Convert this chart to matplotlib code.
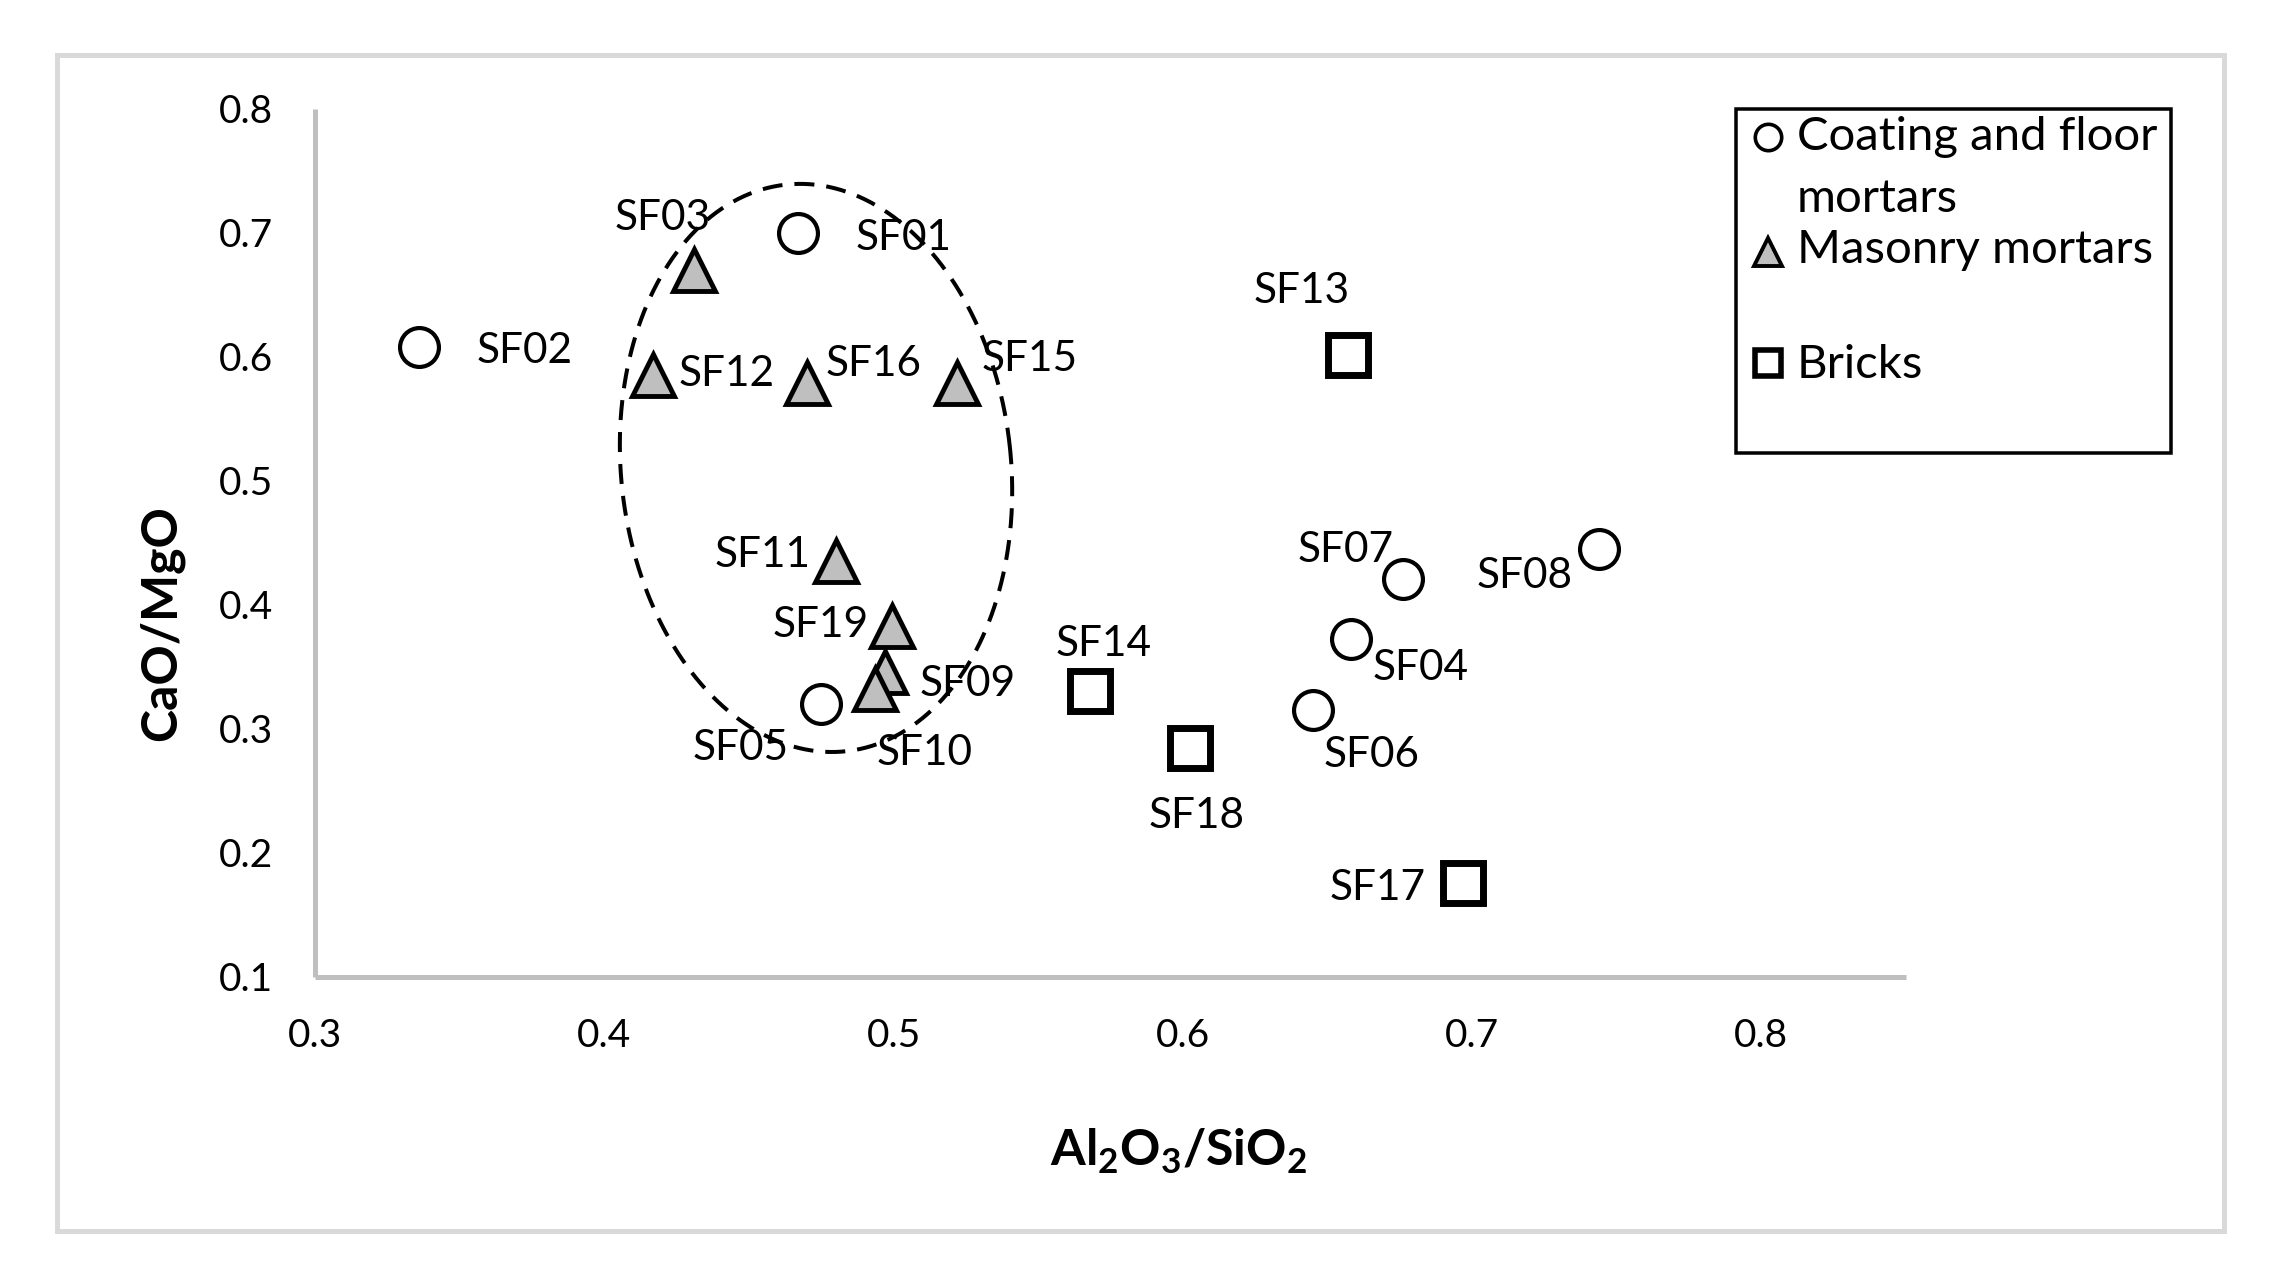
import numpy as np
import matplotlib
matplotlib.use("Agg")
import matplotlib.pyplot as plt
from matplotlib.patches import Rectangle
from matplotlib.lines import Line2D

# ---------------- data ----------------
coat_names = ["SF01", "SF02", "SF04", "SF05", "SF06", "SF07", "SF08"]
coat_x = [0.467, 0.336, 0.658, 0.475, 0.645, 0.676, 0.744]
coat_y = [0.700, 0.6075, 0.372, 0.320, 0.315, 0.421, 0.445]

mason_names = ["SF03", "SF09", "SF10", "SF11", "SF12", "SF15", "SF16", "SF19"]
mason_x = [0.431, 0.497, 0.4936, 0.480, 0.417, 0.522, 0.470, 0.4996]
mason_y = [0.670, 0.3455, 0.332, 0.4355, 0.585, 0.579, 0.5785, 0.383]

brick_names = ["SF13", "SF14", "SF17", "SF18"]
brick_x = [0.657, 0.568, 0.697, 0.6026]
brick_y = [0.601, 0.330, 0.1755, 0.284]

legend_labels = ["Coating and floor\nmortars", "Masonry mortars", "Bricks"]
x_ticks = [0.3, 0.4, 0.5, 0.6, 0.7, 0.8]
y_ticks = [0.1, 0.2, 0.3, 0.4, 0.5, 0.6, 0.7, 0.8]

# ---------------- style ----------------
W, H, DPI = 2276, 1283, 100
FONT = "Lato"
plt.rcParams["font.family"] = [FONT, "DejaVu Sans"]
plt.rcParams["mathtext.fontset"] = "custom"
plt.rcParams["mathtext.rm"] = "Lato"
plt.rcParams["mathtext.bf"] = "Lato:bold"
plt.rcParams["lines.scale_dashes"] = False

# label offsets in pixels (ha, dx, dy) -- dy positive up, text baseline
label_style = {
    "SF02": ("left", 57, -16), "SF01": ("left", 57, -17), "SF03": ("center", -31, 40),
    "SF12": ("left", 25, -11), "SF16": ("left", 19, 7), "SF15": ("left", 24, 12),
    "SF11": ("right", -25, -6), "SF19": ("right", -24, -11), "SF09": ("left", 35, -24),
    "SF10": ("left", 2, -76), "SF05": ("right", -33, -56), "SF13": ("center", -46, 52),
    "SF14": ("center", 13, 35), "SF18": ("center", 6, -80), "SF07": ("right", -9, 17),
    "SF04": ("left", 22, -41), "SF06": ("left", 11, -57), "SF08": ("right", -27, -39),
    "SF17": ("right", -38, -17),
}

px = 0.72  # points per pixel at dpi 100

fig = plt.figure(figsize=(W / DPI, H / DPI), dpi=DPI)
fig.patch.set_facecolor("white")

def fx(p):
    return p / W

def fy(p):
    return 1 - p / H

ax_l, ax_r, ax_t, ax_b = 315, 1906, 108.5, 976.7
ax = fig.add_axes([fx(ax_l), fy(ax_b), fx(ax_r) - fx(ax_l), fy(ax_t) - fy(ax_b)])
ax.set_xlim(0.3, 0.85)
ax.set_ylim(0.1, 0.8)
ax.set_xticks(x_ticks)
ax.set_yticks(y_ticks)
ax.set_xticklabels([f"{v:.1f}" for v in x_ticks])
ax.set_yticklabels([f"{v:.1f}" for v in y_ticks])
for s in ["top", "right"]:
    ax.spines[s].set_visible(False)
for s in ["left", "bottom"]:
    ax.spines[s].set_color("#bfbfbf")
    ax.spines[s].set_linewidth(5 * px)
    ax.spines[s].set_capstyle("butt")
ax.tick_params(length=0, labelsize=28, pad=30)
ax.set_facecolor("none")

ax.plot(coat_x, coat_y, "o", ms=28, mfc="white", mec="black", mew=3.0, ls="none", zorder=3)
ax.plot(mason_x, mason_y, "^", ms=30, mfc="#bfbfbf", mec="black", mew=3.5, ls="none", zorder=3)
ax.plot(brick_x, brick_y, "s", ms=29, mfc="white", mec="black", mew=5.0, ls="none", zorder=3)

for names, xs, ys in [(coat_names, coat_x, coat_y), (mason_names, mason_x, mason_y),
                      (brick_names, brick_x, brick_y)]:
    for n, xv, yv in zip(names, xs, ys):
        ha, dx, dy = label_style[n]
        ax.annotate(n, (xv, yv), xytext=(dx, dy), textcoords="offset pixels",
                    ha=ha, va="baseline", fontsize=30.5, zorder=4)

# dashed ellipse (drawn in display space then mapped to data)
ell_c = (0.4732, 0.5102)
ell_a, ell_b, ell_ang = 0.0674, 0.2297, 6.0
cx, cy = ax.transData.transform(ell_c)
ax0 = ax.transData.transform((ell_c[0] + ell_a, ell_c[1]))[0] - cx
by0 = ax.transData.transform((ell_c[0], ell_c[1] + ell_b))[1] - cy
t = np.linspace(0, 2 * np.pi, 400)
th = np.deg2rad(ell_ang)
ex = ax0 * np.cos(t)
ey = by0 * np.sin(t)
rx = cx + ex * np.cos(th) - ey * np.sin(th)
ry = cy + ex * np.sin(th) + ey * np.cos(th)
pts = ax.transData.inverted().transform(np.column_stack([rx, ry]))
ax.plot(pts[:, 0], pts[:, 1], color="black", lw=4 * px, dashes=(20 * px, 12 * px), zorder=5)

# axis titles
xt = fig.text(fx(1179), fy(1151), r"Al$_\mathbf{2}$O$_\mathbf{3}$/SiO$_\mathbf{2}$",
              fontsize=36, fontweight="bold", ha="center", va="center")
yt = fig.text(fx(161), fy(623), "CaO/MgO", fontsize=36, fontweight="bold",
              rotation=90, ha="center", va="center")

# legend box
fig.add_artist(Rectangle((fx(1736), fy(453)), fx(2171) - fx(1736), fy(109) - fy(453),
                         transform=fig.transFigure, fill=False, edgecolor="black",
                         lw=3.5 * px, zorder=6))
leg_mx = 1768
fig.add_artist(Line2D([fx(leg_mx)], [fy(136.7)], transform=fig.transFigure, marker="o",
                      ms=19, mfc="white", mec="black", mew=2.6, ls="none"))
fig.add_artist(Line2D([fx(leg_mx)], [fy(251.7)], transform=fig.transFigure, marker="^",
                      ms=20, mfc="#bfbfbf", mec="black", mew=2.8, ls="none"))
fig.add_artist(Line2D([fx(leg_mx)], [fy(363.3)], transform=fig.transFigure, marker="s",
                      ms=19, mfc="white", mec="black", mew=4.0, ls="none"))
leg_fs = 34
leg_x = 1797
fig.text(fx(leg_x), fy(150), "Coating and floor", fontsize=leg_fs, va="baseline", ha="left")
fig.text(fx(leg_x), fy(211.7), "mortars", fontsize=leg_fs, va="baseline", ha="left")
fig.text(fx(leg_x), fy(263.3), legend_labels[1], fontsize=leg_fs, va="baseline", ha="left")
fig.text(fx(leg_x), fy(378.3), legend_labels[2], fontsize=leg_fs, va="baseline", ha="left")

# outer frame
fig.add_artist(Rectangle((fx(56.5), fy(1231)), fx(2224) - fx(56.5), fy(55) - fy(1231),
                         transform=fig.transFigure, fill=False, edgecolor="#d9d9d9",
                         lw=5 * px, zorder=0))

fig.savefig("out.png", dpi=DPI, facecolor="white")
